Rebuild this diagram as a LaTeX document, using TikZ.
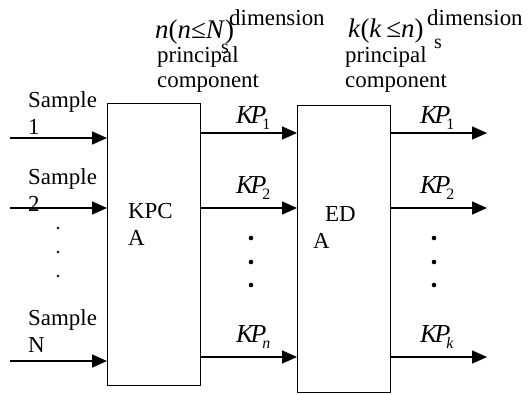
\documentclass[tikz,border=0pt]{standalone}
\usepackage{fontspec}
\setmainfont{Liberation Serif}
\usetikzlibrary{arrows.meta, positioning, calc}
\tikzset{
  % Processing block
  pbox/.style={
    rectangle, draw=black, line width=1.2bp,
    anchor=north west, inner sep=0pt,
    minimum width=93bp
  },
  % Arrows
  arr/.style={-{Triangle[length=15bp,width=13bp]}, line width=1.5bp},
  % Plain text labels (base = last line)
  tlabel/.style={
    font=\fontsize{23}{27}\selectfont,
    inner sep=0pt, anchor=base west, align=left
  },
  hlabel/.style={tlabel, font=\fontsize{23}{25}\selectfont},
  mlabel/.style={tlabel, font=\fontsize{27}{30}\selectfont},
  slabel/.style={tlabel, font=\fontsize{20}{22}\selectfont},
  kplabel/.style={tlabel, font=\fontsize{26}{30}\selectfont},
}
\newcommand{\kp}[1]{{\itshape K\kern-3bp P}\kern-4bp\raisebox{-6bp}{\fontsize{16}{16}\selectfont #1}}

\begin{document}
\begin{tikzpicture}[x=1bp, y=-1bp]
  \useasboundingbox (0,0) rectangle (529,394);

  %% Blocks
  \node[pbox, minimum height=282bp] (kpca) at (107,103) {};
  \node[pbox, minimum height=287bp] (eda)  at (297,105) {};
  \node[tlabel] (kpcatxt) at (128,245) {KPC\\A};
  \node[tlabel] (edatxt)  at (313,248) {\hspace*{12bp}ED\\A};

  %% Headers
  \node[mlabel] (nhead) at (155,38) {\textit{n}(\textit{n}≤\textit{N})};
  \node[hlabel] (ndim)  at (229,25) {dimension};
  \node[slabel] (ns)    at (221,53) {s};
  \node[hlabel] (npc)   at (157,87) {principal\\component};

  \node[mlabel] (khead) at (348,37) {\textit{k}(\textit{k}\,≤\textit{n})};
  \node[hlabel] (kdim)  at (427,25) {dimension};
  \node[slabel] (ks)    at (434,48) {s};
  \node[hlabel] (kpc)   at (345,87) {principal\\component};

  %% Inputs
  \node[tlabel] (smp1) at (28,134) {Sample\\1};
  \node[tlabel] (smp2) at (28,211) {Sample\\2};
  \node[tlabel] (smpN) at (28,352) {Sample\\N};
  \coordinate (in1) at (10,138);
  \coordinate (in2) at (10,208);
  \coordinate (inN) at (10,361);
  \draw[arr] (in1) -- (kpca.west |- in1);
  \draw[arr] (in2) -- (kpca.west |- in2);
  \draw[arr] (inN) -- (kpca.west |- inN);
  \foreach \y in {228,252,276}
    \fill (58,\y) circle (1.3bp);

  %% Principal components
  \coordinate (out1) at (487,133);
  \coordinate (out2) at (487,208);
  \coordinate (outn) at (487,357);
  \draw[arr] (kpca.east |- out1) -- (eda.west |- out1);
  \draw[arr] (kpca.east |- out2) -- (eda.west |- out2);
  \draw[arr] (kpca.east |- outn) -- (eda.west |- outn);
  \draw[arr] (eda.east |- out1) -- (out1);
  \draw[arr] (eda.east |- out2) -- (out2);
  \draw[arr] (eda.east |- outn) -- (outn);

  \node[kplabel] (kpa1) at (236,123) {\kp{1}};
  \node[kplabel] (kpa2) at (236,193) {\kp{2}};
  \node[kplabel] (kpan) at (236,342) {\kp{\textit{n}}};
  \node[kplabel] (kpb1) at (420,123) {\kp{1}};
  \node[kplabel] (kpb2) at (420,193) {\kp{2}};
  \node[kplabel] (kpbk) at (420,342) {\kp{\textit{k}}};
  \foreach \y in {238,262,285} {
    \fill (251,\y) circle (2.3bp);
    \fill (434,\y) circle (2.3bp);
  }
\end{tikzpicture}
\end{document}
